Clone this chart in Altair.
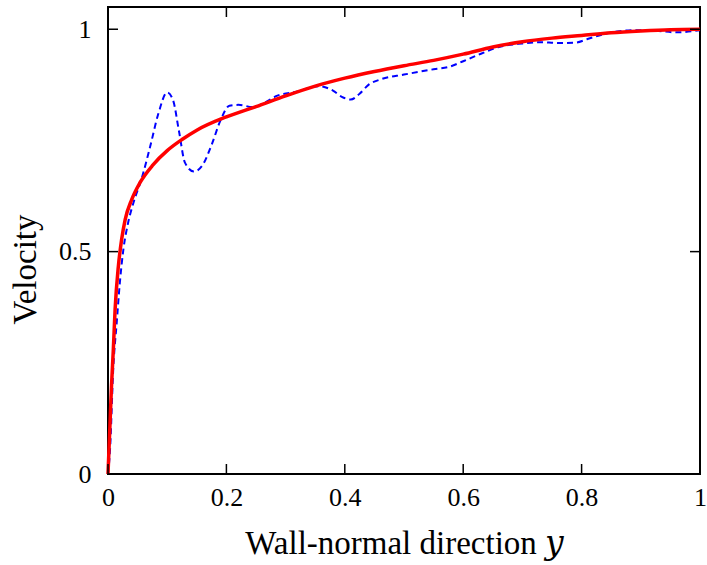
import altair as alt
import pandas as pd

red_x = [0, 0.003, 0.006, 0.009, 0.012, 0.0175, 0.023, 0.029, 0.04, 0.054, 0.076, 0.1, 0.125, 0.15, 0.2,
         0.25, 0.3, 0.35, 0.4, 0.45, 0.5, 0.55, 0.6, 0.65, 0.7, 0.75, 0.8, 0.85, 0.9, 0.95, 1.0]
red_y = [0, 0.1, 0.2, 0.28, 0.37, 0.467, 0.527, 0.572, 0.617, 0.655, 0.695, 0.727, 0.752, 0.773, 0.803,
         0.826, 0.85, 0.872, 0.89, 0.905, 0.918, 0.93, 0.944, 0.96, 0.972, 0.98, 0.986, 0.992, 0.996, 0.999, 1.0]

blue_x = [0, 0.0034, 0.009, 0.0147, 0.02, 0.026, 0.034, 0.043, 0.057, 0.071, 0.085, 0.1, 0.11, 0.12, 0.13,
          0.145, 0.16, 0.175, 0.19, 0.205, 0.22, 0.245, 0.265, 0.285, 0.32, 0.355, 0.38, 0.395, 0.41, 0.425,
          0.44, 0.46, 0.5, 0.55, 0.575, 0.6, 0.63, 0.66, 0.7, 0.73, 0.76, 0.79, 0.81, 0.835, 0.86, 0.89,
          0.93, 0.96, 1.0]
blue_y = [0, 0.054, 0.24, 0.34, 0.43, 0.505, 0.565, 0.61, 0.665, 0.735, 0.81, 0.858, 0.84, 0.77, 0.70,
          0.68, 0.695, 0.74, 0.795, 0.828, 0.83, 0.825, 0.835, 0.85, 0.86, 0.872, 0.862, 0.848, 0.842, 0.855,
          0.875, 0.887, 0.898, 0.91, 0.915, 0.928, 0.945, 0.96, 0.968, 0.971, 0.969, 0.97, 0.978, 0.988, 0.995,
          0.998, 0.996, 0.993, 0.998]

x_ticks = [0, 0.2, 0.4, 0.6, 0.8, 1.0]
y_ticks = [0, 0.5, 1.0]

W, H = 592, 467
FONT = "Liberation Serif, DejaVu Serif, serif"

red_df = pd.DataFrame({"x": red_x, "y": red_y})
blue_df = pd.DataFrame({"x": blue_x, "y": blue_y})
xt_df = pd.DataFrame({"x": x_ticks})
yt_df = pd.DataFrame({"y": y_ticks})

xscale = alt.Scale(domain=[0, 1], nice=False, zero=False)
yscale = alt.Scale(domain=[0, 1.05], nice=False, zero=False)

xaxis = alt.Axis(values=x_ticks, format="~g", ticks=False, domain=False, grid=False,
                 labelFont=FONT, labelFontSize=26, labelColor="black", labelPadding=10,
                 labelFlush=False, labelOverlap=False,
                 title="Wall-normal direction 𝑦", titleFont=FONT, titleFontSize=33,
                 titleFontWeight="normal", titleColor="black", titlePadding=17)
yaxis = alt.Axis(values=y_ticks, format="~g", ticks=False, domain=False, grid=False,
                 labelFont=FONT, labelFontSize=26, labelColor="black", labelPadding=17,
                 labelFlush=False, labelOverlap=False,
                 title="Velocity", titleFont=FONT, titleFontSize=33, titleFontWeight="normal",
                 titleColor="black", titlePadding=16, titleY=262)

blue = alt.Chart(blue_df).mark_line(color="#0000ff", strokeWidth=2, strokeDash=[6, 4],
                                    interpolate="monotone").encode(
    x=alt.X("x:Q", scale=xscale, axis=xaxis),
    y=alt.Y("y:Q", scale=yscale, axis=yaxis),
)
red = alt.Chart(red_df).mark_line(color="#ff0000", strokeWidth=3.5,
                                  interpolate="monotone").encode(
    x=alt.X("x:Q", scale=xscale),
    y=alt.Y("y:Q", scale=yscale),
)

tick_style = dict(color="black", strokeWidth=1.5)
xb = alt.Chart(xt_df).mark_rule(**tick_style).encode(
    x=alt.X("x:Q", scale=xscale), y=alt.value(H), y2=alt.value(H - 10))
xtp = alt.Chart(xt_df).mark_rule(**tick_style).encode(
    x=alt.X("x:Q", scale=xscale), y=alt.value(0), y2=alt.value(10))
yl = alt.Chart(yt_df).mark_rule(**tick_style).encode(
    y=alt.Y("y:Q", scale=yscale), x=alt.value(0), x2=alt.value(10))
yr = alt.Chart(yt_df).mark_rule(**tick_style).encode(
    y=alt.Y("y:Q", scale=yscale), x=alt.value(W), x2=alt.value(W - 10))

chart = alt.layer(blue, red, xb, xtp, yl, yr).properties(
    width=W, height=H,
    autosize=alt.AutoSizeParams(type="none"),
    padding={"left": 108, "top": 7, "right": 7, "bottom": 91},
    background="white",
).configure_view(stroke="black", strokeWidth=2)

chart.save("out.html", embed_options={"renderer": "svg", "actions": False})
